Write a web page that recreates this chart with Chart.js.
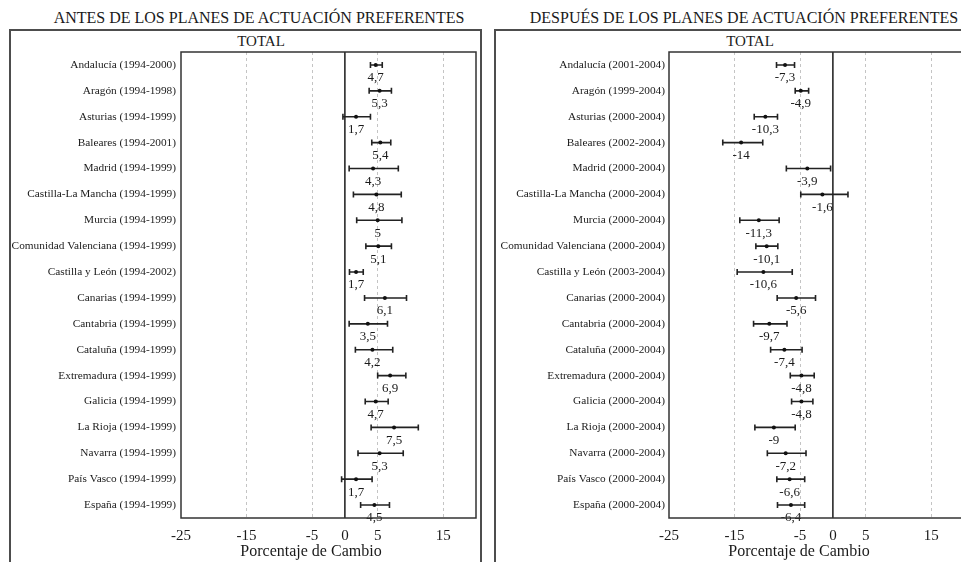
<!DOCTYPE html>
<html lang="es">
<head>
<meta charset="utf-8">
<title>Porcentaje de Cambio – antes y después de los planes de actuación preferentes</title>
<script src="https://cdn.jsdelivr.net/npm/chart.js@4/dist/chart.umd.min.js"></script>
<style>
  html, body { margin: 0; padding: 0; background: #fff; }
  body { position: relative; width: 961px; height: 562px; overflow: hidden;
         font-family: "Liberation Serif", "DejaVu Serif", serif; color: #1a1a1a; }
  .txt { position: absolute; text-align: center; white-space: nowrap; }
  .title { font-size: 16px; line-height: 16px; width: 500px; }
  .total { font-size: 15px; line-height: 15px; width: 200px; }
  .axis { font-size: 16px; line-height: 16px; width: 300px; }
  .frame { position: absolute; border: 2px solid #4d4d4d; height: 600px; width: 469px; top: 29px; }
  canvas { position: absolute; }
</style>
</head>
<body>
<div class="txt title" style="left:9px;top:10px">ANTES DE LOS PLANES DE ACTUACIÓN PREFERENTES</div>
<div class="txt title" style="left:494px;top:10px">DESPUÉS DE LOS PLANES DE ACTUACIÓN PREFERENTES</div>
<div class="frame" style="left:9px"></div>
<div class="frame" style="left:494px"></div>
<div class="txt total" style="left:161px;top:34px">TOTAL</div>
<div class="txt total" style="left:650px;top:34px">TOTAL</div>
<canvas id="antes" width="471" height="531" style="left:10px;top:31px"></canvas>
<canvas id="despues" width="470" height="531" style="left:496px;top:31px"></canvas>
<div class="txt axis" style="left:161px;top:543px">Porcentaje de Cambio</div>
<div class="txt axis" style="left:649px;top:543px">Porcentaje de Cambio</div>

<script>
// Periodo anterior a los planes
const antesLabels = [
  'Andalucía (1994-2000)', 'Aragón (1994-1998)', 'Asturias (1994-1999)', 'Baleares (1994-2001)',
  'Madrid (1994-1999)', 'Castilla-La Mancha (1994-1999)', 'Murcia (1994-1999)',
  'Comunidad Valenciana (1994-1999)', 'Castilla y León (1994-2002)', 'Canarias (1994-1999)',
  'Cantabria (1994-1999)', 'Cataluña (1994-1999)', 'Extremadura (1994-1999)', 'Galicia (1994-1999)',
  'La Rioja (1994-1999)', 'Navarra (1994-1999)', 'País Vasco (1994-1999)', 'España (1994-1999)'
];
const antesValores = [4.7, 5.3, 1.7, 5.4, 4.3, 4.8, 5, 5.1, 1.7, 6.1, 3.5, 4.2, 6.9, 4.7, 7.5, 5.3, 1.7, 4.5];
const antesInf = [3.9, 3.7, -0.3, 4.1, 0.65, 1.3, 1.8, 3.2, 0.7, 3.0, 0.65, 1.6, 5.0, 3.1, 4.0, 2.0, -0.5, 2.4];
const antesSup = [5.7, 7.1, 3.9, 7.0, 8.15, 8.6, 8.7, 7.1, 2.8, 9.4, 6.5, 7.3, 9.3, 6.6, 11.2, 8.9, 4.15, 6.8];

// Periodo posterior a los planes
const despuesLabels = [
  'Andalucía (2001-2004)', 'Aragón (1999-2004)', 'Asturias (2000-2004)', 'Baleares (2002-2004)',
  'Madrid (2000-2004)', 'Castilla-La Mancha (2000-2004)', 'Murcia (2000-2004)',
  'Comunidad Valenciana (2000-2004)', 'Castilla y León (2003-2004)', 'Canarias (2000-2004)',
  'Cantabria (2000-2004)', 'Cataluña (2000-2004)', 'Extremadura (2000-2004)', 'Galicia (2000-2004)',
  'La Rioja (2000-2004)', 'Navarra (2000-2004)', 'País Vasco (2000-2004)', 'España (2000-2004)'
];
const despuesValores = [-7.3, -4.9, -10.3, -14, -3.9, -1.6, -11.3, -10.1, -10.6, -5.6, -9.7, -7.4, -4.8, -4.8, -9, -7.2, -6.6, -6.4];
const despuesInf = [-8.6, -5.75, -12.0, -16.8, -7.1, -4.9, -14.2, -11.75, -14.6, -8.5, -12.1, -9.5, -6.5, -6.3, -11.9, -10.0, -8.55, -8.45];
const despuesSup = [-5.85, -3.7, -8.45, -10.7, -0.35, 2.3, -8.2, -8.4, -6.2, -2.65, -7.0, -4.7, -2.85, -3.05, -5.75, -4.1, -4.3, -4.3];

// Ticks del eje de porcentaje
const ejeTicks = [-25, -15, -5, 0, 5, 15];
const ejeMin = -25, ejeMax = 20;

const SERIF = '"Liberation Serif", "DejaVu Serif", serif';
const INK = '#1a1a1a';

// Intervalos, línea del cero, recuadro y etiquetas de valor
const intervalos = {
  id: 'intervalos',
  beforeDatasetsDraw(chart, args, opts) {
    const { ctx, chartArea: a, scales: { x, y } } = chart;
    ctx.save();
    const x0 = x.getPixelForValue(0);
    ctx.strokeStyle = INK;
    ctx.lineWidth = 1.5;
    ctx.beginPath();
    ctx.moveTo(x0, a.top);
    ctx.lineTo(x0, a.bottom);
    ctx.stroke();

    ctx.strokeStyle = '#222';
    ctx.lineWidth = 1.6;
    opts.inf.forEach((lo, i) => {
      const py = y.getPixelForValue(i);
      const x1 = x.getPixelForValue(lo);
      const x2 = x.getPixelForValue(opts.sup[i]);
      ctx.beginPath();
      ctx.moveTo(x1, py); ctx.lineTo(x2, py);
      ctx.moveTo(x1, py - 3); ctx.lineTo(x1, py + 3);
      ctx.moveTo(x2, py - 3); ctx.lineTo(x2, py + 3);
      ctx.stroke();
    });
    ctx.restore();
  },
  afterDatasetsDraw(chart, args, opts) {
    const { ctx, chartArea: a, scales: { x, y } } = chart;
    ctx.save();
    ctx.fillStyle = INK;
    ctx.font = '13px ' + SERIF;
    ctx.textAlign = 'center';
    ctx.textBaseline = 'middle';
    opts.valores.forEach((v, i) => {
      const px = x.getPixelForValue(v);
      const py = y.getPixelForValue(i);
      ctx.fillText(String(v).replace('.', ','), px, py + 13);
    });
    ctx.strokeStyle = '#333';
    ctx.lineWidth = 1.5;
    ctx.strokeRect(a.left, a.top, a.right - a.left, a.bottom - a.top);
    ctx.restore();
  }
};

function crearPanel(id, labels, valores, inf, sup, anchoEjeY, padDer, padLabel) {
  return new Chart(document.getElementById(id), {
    type: 'scatter',
    data: {
      labels: labels,
      datasets: [{
        data: valores.map((v, i) => ({ x: v, y: labels[i] })),
        pointRadius: 2,
        pointHoverRadius: 2,
        backgroundColor: '#111',
        borderWidth: 0
      }]
    },
    options: {
      responsive: false,
      animation: false,
      layout: { padding: { top: 21, right: padDer, left: 0, bottom: 0 } },
      plugins: {
        legend: { display: false },
        tooltip: { enabled: false },
        intervalos: { valores: valores, inf: inf, sup: sup }
      },
      scales: {
        x: {
          type: 'linear',
          min: ejeMin,
          max: ejeMax,
          afterBuildTicks(scale) { scale.ticks = ejeTicks.map(v => ({ value: v })); },
          afterFit(scale) { scale.height = 44; },
          grid: {
            drawTicks: false,
            lineWidth: 1,
            color: c => (c.tick && (c.tick.value === 0 || c.tick.value === ejeMin)) ? 'rgba(0,0,0,0)' : '#c4c4c4'
          },
          border: { display: false, dash: [3, 3] },
          ticks: { font: { family: SERIF, size: 15 }, color: INK, padding: 9, maxRotation: 0 }
        },
        y: {
          type: 'category',
          offset: true,
          afterFit(scale) { scale.width = anchoEjeY; },
          grid: { display: false, drawTicks: false },
          border: { display: false },
          ticks: { autoSkip: false, font: { family: SERIF, size: 11.3 }, color: INK, padding: padLabel }
        }
      }
    },
    plugins: [intervalos]
  });
}

crearPanel('antes', antesLabels, antesValores, antesInf, antesSup, 171, 5, 5);
crearPanel('despues', despuesLabels, despuesValores, despuesInf, despuesSup, 173, 1, 4);
</script>
</body>
</html>
